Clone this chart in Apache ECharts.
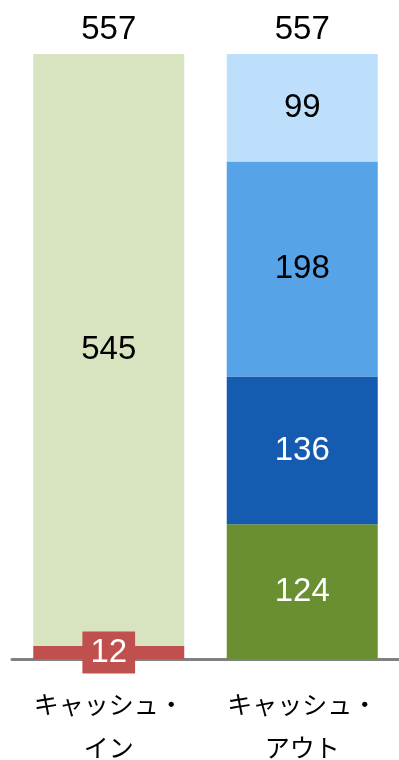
<!DOCTYPE html>
<html>
<head>
<meta charset="utf-8">
<script src="https://cdn.jsdelivr.net/npm/echarts@6/dist/echarts.min.js"></script>
<style>
  html, body { margin: 0; padding: 0; background: #fff; }
  #chart { width: 399px; height: 760px; }
</style>
</head>
<body>
<div id="chart"></div>
<script>
// データ
const categories = ['キャッシュ・\nイン', 'キャッシュ・\nアウト']
const seg1 = [12, 124]
const seg2 = [545, 136]
const seg3 = [null, 198]
const seg4 = [null, 99]
const totals = [557, 557]

const seg1Colors = ['#C0504D', '#6A8F31']
const seg2Colors = ['#D8E4BF', '#155CB0']
const seg1Text = ['#fff', '#fff']
const seg2Text = ['#000', '#fff']

const chart = echarts.init(document.getElementById('chart'))
const numFont = 'Liberation Sans, Arial, sans-serif'

const baseLabel = {
  show: true,
  position: 'inside',
  fontFamily: numFont,
  fontSize: 33,
  color: '#000'
}

const option = {
  animation: false,
  grid: { left: 12, right: 0, top: 54, bottom: 101, outerBoundsMode: 'none', containLabel: false },
  xAxis: {
    type: 'category',
    data: categories,
    axisTick: { show: false },
    axisLine: { lineStyle: { color: '#808080', width: 3 } },
    axisLabel: {
      interval: 0,
      color: '#000',
      fontFamily: 'Noto Sans CJK JP',
      fontSize: 25,
      lineHeight: 43,
      margin: 24
    }
  },
  yAxis: { type: 'value', min: 0, max: 557, show: false },
  series: [
    {
      name: 'seg1',
      type: 'bar',
      stack: 'a',
      barWidth: 151,
      label: baseLabel,
      data: seg1.map((v, i) => ({
        value: v,
        itemStyle: { color: seg1Colors[i] },
        label: i === 0
          ? { color: seg1Text[i], backgroundColor: seg1Colors[i], padding: [6, 8], lineHeight: 30 }
          : { color: seg1Text[i] }
      }))
    },
    {
      name: 'seg2',
      type: 'bar',
      stack: 'a',
      label: baseLabel,
      data: seg2.map((v, i) => ({
        value: v,
        itemStyle: { color: seg2Colors[i] },
        label: { color: seg2Text[i] }
      }))
    },
    {
      name: 'seg3',
      type: 'bar',
      stack: 'a',
      data: seg3,
      itemStyle: { color: '#57A3E8' },
      label: baseLabel
    },
    {
      name: 'seg4',
      type: 'bar',
      stack: 'a',
      data: seg4,
      itemStyle: { color: '#BDDFFC' },
      label: baseLabel
    },
    {
      name: 'total',
      type: 'bar',
      stack: 'a',
      data: totals.map(() => 0),
      itemStyle: { color: 'transparent' },
      label: {
        show: true,
        position: 'top',
        distance: 8,
        fontFamily: numFont,
        fontSize: 33,
        color: '#000',
        formatter: (p) => totals[p.dataIndex]
      }
    }
  ]
}

chart.setOption(option)
window.addEventListener('resize', () => chart.resize())
</script>
</body>
</html>
